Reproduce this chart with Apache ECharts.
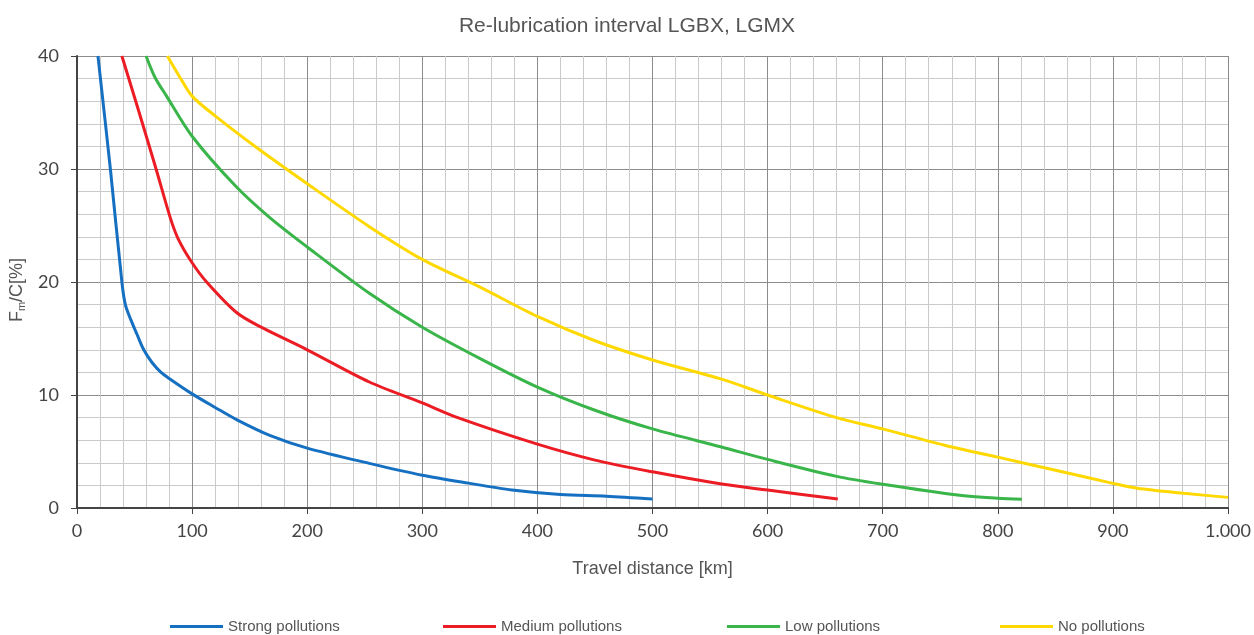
<!DOCTYPE html>
<html>
<head>
<meta charset="utf-8">
<script src="https://cdn.jsdelivr.net/npm/echarts@6/dist/echarts.min.js"></script>
<style>html,body{margin:0;padding:0;background:#fff}#c{width:1254px;height:635px}</style>
</head>
<body>
<div id="c"></div>
<script>
const seriesNames = ['Strong pollutions', 'Medium pollutions', 'Low pollutions', 'No pollutions'];
const strong = [[18.2,40],[29,30],[39,20],[42,18],[47,16.6],[52,15.4],[58,14],[65,12.9],[73,12.0],[81,11.4],[100,10.1],[120,8.9],[139,7.8],[168,6.4],[200,5.3],[254,3.95],[300,2.9],[340,2.2],[378,1.6],[420,1.2],[460,1.05],[500,0.8]];
const medium = [[39,40],[54,35],[68.7,30],[81,25.7],[88,23.8],[100,21.7],[112.6,20],[138.6,17.3],[160,16],[200,14],[254,11.15],[300,9.3],[332,7.95],[400,5.65],[450,4.24],[500,3.2],[560,2.12],[600,1.59],[661,0.8]];
const low = [[60,40],[67.8,38.1],[77.8,36.45],[100,32.9],[138.6,28.4],[167.5,25.7],[200,23.1],[254,19.0],[300,16],[350.7,13.2],[400,10.7],[450,8.65],[500,7.0],[560,5.4],[600,4.3],[660,2.8],[700,2.1],[765,1.15],[800,0.86],[821,0.77]];
const none = [[78.5,40],[89.5,38.1],[100,36.45],[120,34.7],[156,31.9],[200,28.7],[254,24.9],[300,22],[351,19.5],[400,16.95],[450,14.8],[500,13.1],[560,11.4],[600,10.0],[660,8.0],[700,7.0],[753.6,5.56],[800,4.5],[852,3.3],[900,2.18],[921,1.75],[961.7,1.3],[1000,0.94]];
const colors = ['#1670c2', '#ec1c24', '#39b54a', '#ffd800'];
const legendLefts = [165, 438, 722, 995];

const chart = echarts.init(document.getElementById('c'));
const font = 'Lato, "DejaVu Sans", sans-serif';
const hfont = '"Liberation Sans", Arial, sans-serif';
const allData = [strong, medium, low, none];
const baseAxis = {
  axisLine: {show: true, onZero: false, lineStyle: {color: '#444', width: 2}},
  axisTick: {show: true, length: 6, lineStyle: {color: '#444', width: 1}},
  splitLine: {show: true, lineStyle: {color: '#8c8c8c', width: 1}}
};
const minorAxis = {
  axisLine: {show: false}, axisTick: {show: false}, axisLabel: {show: false},
  splitLine: {show: true, lineStyle: {color: '#cacaca', width: 1}}
};
chart.setOption({
  animation: false,
  title: {
    text: 'Re-lubrication interval LGBX, LGMX',
    left: 'center', top: 11,
    textStyle: {fontFamily: hfont, fontSize: 21, fontWeight: 'normal', color: '#555'}
  },
  legend: seriesNames.map((n, i) => ({
    data: [n], left: legendLefts[i], top: 614,
    icon: 'rect', itemWidth: 53, itemHeight: 3, itemGap: 10,
    textStyle: {fontFamily: '"Liberation Sans Narrow", "Liberation Sans", sans-serif', fontSize: 15, color: '#555'}
  })),
  grid: {left: 77, right: 23, top: 56, bottom: 127, containLabel: false},
  xAxis: [
    Object.assign({type: 'value', min: 0, max: 1000, interval: 20}, minorAxis),
    Object.assign({
      type: 'value', min: 0, max: 1000, interval: 100, position: 'bottom',
      name: 'Travel distance [km]', nameLocation: 'middle', nameGap: 52,
      nameTextStyle: {fontFamily: hfont, fontSize: 18, color: '#555'},
      axisLabel: {fontFamily: font, fontSize: 18, color: '#444', margin: 14,
        formatter: v => String(v).replace(/\B(?=(\d{3})+(?!\d))/g, '.')}
    }, baseAxis)
  ],
  yAxis: [
    Object.assign({type: 'value', min: 0, max: 40, interval: 2}, minorAxis),
    Object.assign({
      type: 'value', min: 0, max: 40, interval: 10, position: 'left',
      name: '{a|F}{b|m}{a|/C[%]}', nameLocation: 'middle', nameGap: 50,
      nameTextStyle: {padding: [0, 16, 0, 0], rich: {
        a: {fontFamily: hfont, fontSize: 18, color: '#555'},
        b: {fontFamily: hfont, fontSize: 11, color: '#555', padding: [8, 0, 0, 0]}
      }},
      axisLabel: {fontFamily: font, fontSize: 18, color: '#444', margin: 18}
    }, baseAxis)
  ],
  series: seriesNames.map((n, i) => ({
    name: n, type: 'line', data: allData[i], showSymbol: false, symbol: 'none',
    xAxisIndex: 1, yAxisIndex: 1,
    smooth: 0.3, clip: true,
    lineStyle: {color: colors[i], width: 3},
    itemStyle: {color: colors[i]}
  }))
});
</script>
</body>
</html>
